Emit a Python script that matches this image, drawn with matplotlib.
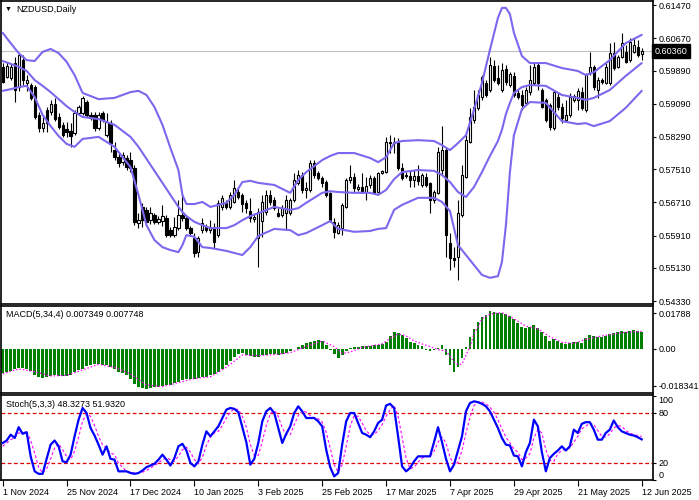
import numpy as np
import matplotlib
matplotlib.use('Agg')
import matplotlib.pyplot as plt

plt.rcParams['font.family'] = ['Liberation Sans', 'DejaVu Sans']

# ---- price candles (daily NZDUSD), one entry per bar ----
opens = [0.5998, 0.5973, 0.5971, 0.6007, 0.5949, 0.6014, 0.5959, 0.5954, 0.5949, 0.5882,
         0.5850, 0.5894, 0.5889, 0.5908, 0.5877, 0.5858, 0.5848, 0.5843, 0.5838, 0.5887,
         0.5887, 0.5913, 0.5882, 0.5882, 0.5850, 0.5887, 0.5833, 0.5862, 0.5797, 0.5780,
         0.5768, 0.5778, 0.5773, 0.5754, 0.5621, 0.5660, 0.5653, 0.5628, 0.5640, 0.5624,
         0.5626, 0.5633, 0.5604, 0.5592, 0.5609, 0.5640, 0.5633, 0.5609, 0.5585, 0.5551,
         0.5604, 0.5612, 0.5604, 0.5612, 0.5592, 0.5660, 0.5670, 0.5660, 0.5672, 0.5696,
         0.5689, 0.5670, 0.5650, 0.5631, 0.5585, 0.5626, 0.5648, 0.5689, 0.5677, 0.5645,
         0.5640, 0.5645, 0.5645, 0.5677, 0.5718, 0.5737, 0.5701, 0.5701, 0.5766, 0.5742,
         0.5730, 0.5720, 0.5694, 0.5624, 0.5597, 0.5609, 0.5660, 0.5725, 0.5732, 0.5703,
         0.5708, 0.5696, 0.5713, 0.5730, 0.5696, 0.5742, 0.5744, 0.5814, 0.5817, 0.5817,
         0.5754, 0.5737, 0.5735, 0.5725, 0.5735, 0.5713, 0.5732, 0.5718, 0.5677, 0.5694,
         0.5749, 0.5797, 0.5573, 0.5537, 0.5539, 0.5640, 0.5732, 0.5817, 0.5870, 0.5899,
         0.5925, 0.5959, 0.5942, 0.6000, 0.5971, 0.5942, 0.5993, 0.5954, 0.5976, 0.5935,
         0.5930, 0.5911, 0.5937, 0.5959, 0.6002, 0.5942, 0.5918, 0.5906, 0.5850, 0.5925,
         0.5901, 0.5870, 0.5882, 0.5918, 0.5918, 0.5937, 0.5894, 0.5983, 0.5998, 0.5942,
         0.5966, 0.5959, 0.5959, 0.6031, 0.5998, 0.6022, 0.6034, 0.6014, 0.6034, 0.6046,
         0.6029]
highs = [0.6007, 0.6010, 0.6005, 0.6022, 0.6031, 0.6026, 0.5978, 0.5959, 0.5954, 0.5889,
         0.5877, 0.5901, 0.5918, 0.5923, 0.5887, 0.5865, 0.5865, 0.5862, 0.5894, 0.5906,
         0.5928, 0.5918, 0.5889, 0.5889, 0.5889, 0.5891, 0.5887, 0.5870, 0.5817, 0.5790,
         0.5793, 0.5785, 0.5793, 0.5761, 0.5645, 0.5670, 0.5660, 0.5660, 0.5645, 0.5638,
         0.5665, 0.5640, 0.5612, 0.5636, 0.5677, 0.5694, 0.5638, 0.5614, 0.5597, 0.5590,
         0.5633, 0.5619, 0.5628, 0.5621, 0.5677, 0.5689, 0.5677, 0.5696, 0.5725, 0.5706,
         0.5694, 0.5677, 0.5682, 0.5643, 0.5657, 0.5689, 0.5701, 0.5701, 0.5684, 0.5657,
         0.5665, 0.5689, 0.5682, 0.5742, 0.5749, 0.5744, 0.5720, 0.5773, 0.5773, 0.5747,
         0.5735, 0.5725, 0.5696, 0.5633, 0.5624, 0.5670, 0.5730, 0.5761, 0.5742, 0.5715,
         0.5742, 0.5732, 0.5737, 0.5735, 0.5744, 0.5749, 0.5829, 0.5833, 0.5829, 0.5826,
         0.5766, 0.5744, 0.5749, 0.5749, 0.5761, 0.5742, 0.5742, 0.5720, 0.5701, 0.5805,
         0.5855, 0.5802, 0.5597, 0.5563, 0.5677, 0.5761, 0.5841, 0.5899, 0.5942, 0.5942,
         0.5978, 0.5966, 0.6022, 0.6014, 0.6002, 0.6007, 0.6002, 0.5985, 0.5985, 0.5942,
         0.5942, 0.5949, 0.6002, 0.6007, 0.6007, 0.5947, 0.5923, 0.5911, 0.5942, 0.5937,
         0.5911, 0.5918, 0.5935, 0.5932, 0.5947, 0.5949, 0.5983, 0.6034, 0.6002, 0.5973,
         0.5971, 0.6007, 0.6055, 0.6058, 0.6026, 0.6080, 0.6051, 0.6067, 0.6067, 0.6063,
         0.6043]
lows = [0.5959, 0.5971, 0.5966, 0.5913, 0.5940, 0.5954, 0.5940, 0.5918, 0.5872, 0.5841,
        0.5841, 0.5841, 0.5882, 0.5867, 0.5848, 0.5829, 0.5829, 0.5805, 0.5833, 0.5882,
        0.5882, 0.5877, 0.5870, 0.5843, 0.5846, 0.5865, 0.5829, 0.5793, 0.5773, 0.5756,
        0.5761, 0.5749, 0.5744, 0.5616, 0.5609, 0.5612, 0.5616, 0.5619, 0.5619, 0.5619,
        0.5614, 0.5588, 0.5588, 0.5588, 0.5604, 0.5626, 0.5604, 0.5590, 0.5539, 0.5539,
        0.5597, 0.5600, 0.5597, 0.5561, 0.5588, 0.5653, 0.5655, 0.5655, 0.5670, 0.5679,
        0.5648, 0.5645, 0.5624, 0.5624, 0.5515, 0.5588, 0.5640, 0.5665, 0.5653, 0.5636,
        0.5636, 0.5604, 0.5640, 0.5672, 0.5713, 0.5694, 0.5682, 0.5696, 0.5730, 0.5725,
        0.5708, 0.5684, 0.5624, 0.5585, 0.5595, 0.5592, 0.5657, 0.5718, 0.5696, 0.5698,
        0.5694, 0.5677, 0.5706, 0.5691, 0.5694, 0.5739, 0.5742, 0.5790, 0.5790, 0.5749,
        0.5725, 0.5730, 0.5708, 0.5708, 0.5713, 0.5708, 0.5708, 0.5645, 0.5670, 0.5691,
        0.5737, 0.5539, 0.5508, 0.5515, 0.5484, 0.5636, 0.5730, 0.5814, 0.5862, 0.5894,
        0.5918, 0.5925, 0.5937, 0.5961, 0.5954, 0.5937, 0.5954, 0.5949, 0.5925, 0.5920,
        0.5894, 0.5906, 0.5930, 0.5954, 0.5942, 0.5899, 0.5865, 0.5846, 0.5846, 0.5894,
        0.5862, 0.5865, 0.5877, 0.5913, 0.5894, 0.5894, 0.5889, 0.5978, 0.5942, 0.5923,
        0.5957, 0.5957, 0.5954, 0.5990, 0.5995, 0.6019, 0.6007, 0.6010, 0.6031, 0.6022,
        0.6014]
closes = [0.5961, 0.6000, 0.5998, 0.5942, 0.6026, 0.5966, 0.5966, 0.5923, 0.5877, 0.5850,
          0.5862, 0.5862, 0.5908, 0.5872, 0.5853, 0.5833, 0.5841, 0.5831, 0.5887, 0.5901,
          0.5923, 0.5882, 0.5875, 0.5850, 0.5882, 0.5870, 0.5865, 0.5814, 0.5780, 0.5766,
          0.5785, 0.5756, 0.5754, 0.5624, 0.5628, 0.5628, 0.5624, 0.5645, 0.5624, 0.5631,
          0.5638, 0.5592, 0.5592, 0.5612, 0.5640, 0.5633, 0.5609, 0.5597, 0.5549, 0.5585,
          0.5621, 0.5604, 0.5612, 0.5575, 0.5670, 0.5682, 0.5660, 0.5689, 0.5706, 0.5684,
          0.5667, 0.5657, 0.5633, 0.5636, 0.5648, 0.5672, 0.5689, 0.5672, 0.5657, 0.5638,
          0.5657, 0.5677, 0.5677, 0.5725, 0.5737, 0.5701, 0.5706, 0.5766, 0.5737, 0.5730,
          0.5718, 0.5689, 0.5628, 0.5600, 0.5616, 0.5665, 0.5725, 0.5732, 0.5706, 0.5708,
          0.5696, 0.5710, 0.5730, 0.5694, 0.5742, 0.5747, 0.5817, 0.5817, 0.5814, 0.5754,
          0.5730, 0.5735, 0.5725, 0.5735, 0.5723, 0.5737, 0.5713, 0.5677, 0.5696, 0.5793,
          0.5797, 0.5592, 0.5537, 0.5532, 0.5645, 0.5737, 0.5821, 0.5877, 0.5901, 0.5930,
          0.5973, 0.5930, 0.6002, 0.5966, 0.5959, 0.5990, 0.5961, 0.5981, 0.5930, 0.5925,
          0.5906, 0.5942, 0.5966, 0.5998, 0.5959, 0.5901, 0.5870, 0.5853, 0.5937, 0.5901,
          0.5875, 0.5882, 0.5925, 0.5928, 0.5940, 0.5899, 0.5978, 0.5998, 0.5949, 0.5966,
          0.5961, 0.5998, 0.6031, 0.5995, 0.6022, 0.6055, 0.6010, 0.6058, 0.6051, 0.6026,
          0.6036]

# ---- Bollinger bands at these bars ----
band_idx = [0, 2, 4, 6, 8, 10, 12, 14, 16, 18, 20, 24, 28, 32, 34, 36, 38, 40, 42, 44,
            45, 46, 48, 50, 52, 56, 58, 60, 62, 64, 68, 72, 74, 76, 80, 82, 84, 88, 92, 94,
            96, 98, 100, 104, 108, 110, 112, 114, 116, 118, 120, 122, 124, 125, 126, 127, 128, 130, 132, 136,
            140, 144, 146, 148, 152, 156, 160]
band_upper = [0.6080, 0.6055, 0.6031, 0.6014, 0.6012, 0.6034, 0.6041, 0.6031, 0.6010, 0.5978,
              0.5935, 0.5920, 0.5923, 0.5937, 0.5940, 0.5930, 0.5901, 0.5858, 0.5802, 0.5749,
              0.5689, 0.5667, 0.5667, 0.5672, 0.5660, 0.5670, 0.5689, 0.5720, 0.5723, 0.5718,
              0.5713, 0.5694, 0.5725, 0.5744, 0.5773, 0.5783, 0.5790, 0.5790, 0.5778, 0.5768,
              0.5780, 0.5814, 0.5819, 0.5821, 0.5819, 0.5809, 0.5797, 0.5814, 0.5833, 0.5894,
              0.5959, 0.6039, 0.6116, 0.6140, 0.6140, 0.6125, 0.6080, 0.6024, 0.6007, 0.6007,
              0.5995, 0.5988, 0.5978, 0.5985, 0.6014, 0.6055, 0.6075]
band_mid = [0.6012, 0.6005, 0.5998, 0.5988, 0.5966, 0.5952, 0.5937, 0.5920, 0.5903, 0.5889,
            0.5877, 0.5872, 0.5858, 0.5829, 0.5805, 0.5776, 0.5747, 0.5718, 0.5689, 0.5660,
            0.5648, 0.5638, 0.5624, 0.5616, 0.5609, 0.5609, 0.5616, 0.5628, 0.5638, 0.5645,
            0.5660, 0.5653, 0.5657, 0.5670, 0.5694, 0.5698, 0.5696, 0.5694, 0.5694, 0.5689,
            0.5701, 0.5727, 0.5744, 0.5749, 0.5747, 0.5737, 0.5720, 0.5696, 0.5684, 0.5708,
            0.5744, 0.5783, 0.5819, 0.5846, 0.5884, 0.5911, 0.5935, 0.5949, 0.5954, 0.5952,
            0.5930, 0.5923, 0.5918, 0.5923, 0.5942, 0.5976, 0.6007]
band_lower = [0.5940, 0.5944, 0.5949, 0.5952, 0.5925, 0.5882, 0.5855, 0.5831, 0.5812, 0.5805,
              0.5824, 0.5829, 0.5805, 0.5756, 0.5689, 0.5616, 0.5580, 0.5563, 0.5556, 0.5551,
              0.5568, 0.5592, 0.5588, 0.5563, 0.5561, 0.5554, 0.5549, 0.5544, 0.5563, 0.5590,
              0.5607, 0.5604, 0.5592, 0.5597, 0.5616, 0.5626, 0.5607, 0.5600, 0.5602, 0.5607,
              0.5609, 0.5653, 0.5665, 0.5682, 0.5682, 0.5672, 0.5650, 0.5568, 0.5544, 0.5520,
              0.5496, 0.5489, 0.5493, 0.5527, 0.5616, 0.5744, 0.5833, 0.5896, 0.5913, 0.5911,
              0.5867, 0.5860, 0.5862, 0.5855, 0.5867, 0.5899, 0.5940]

# ---- MACD(5,34,4) histogram, one per bar ----
macd = [-0.0118, -0.0114, -0.0108, -0.0101, -0.0096, -0.0093, -0.0098, -0.0108, -0.0129, -0.0141,
        -0.0146, -0.0141, -0.0134, -0.0131, -0.0134, -0.0136, -0.0133, -0.0128, -0.0114, -0.0104,
        -0.0098, -0.0085, -0.0078, -0.0075, -0.0075, -0.0078, -0.0081, -0.0088, -0.0101, -0.0113,
        -0.0121, -0.0128, -0.0147, -0.0174, -0.0191, -0.0196, -0.0197, -0.0194, -0.0191, -0.0187,
        -0.0184, -0.0181, -0.0177, -0.0171, -0.0162, -0.0154, -0.0151, -0.0147, -0.0147, -0.0144,
        -0.0141, -0.0138, -0.0131, -0.0124, -0.0114, -0.0100, -0.0080, -0.0060, -0.0040, -0.0025,
        -0.0022, -0.0028, -0.0035, -0.0041, -0.0038, -0.0031, -0.0028, -0.0025, -0.0025, -0.0028,
        -0.0025, -0.0018, -0.0008, 0.0002, 0.0012, 0.0020, 0.0028, 0.0035, 0.0040, 0.0043,
        0.0041, 0.0020, -0.0005, -0.0025, -0.0043, -0.0031, -0.0012, 0.0007, 0.0012, 0.0012,
        0.0013, 0.0013, 0.0015, 0.0018, 0.0020, 0.0025, 0.0036, 0.0065, 0.0083, 0.0078,
        0.0070, 0.0053, 0.0036, 0.0028, 0.0020, 0.0015, -0.0005, -0.0012, -0.0005, 0.0007,
        0.0020, -0.0030, -0.0080, -0.0113, -0.0088, -0.0046, 0.0012, 0.0061, 0.0099, 0.0136,
        0.0161, 0.0169, 0.0189, 0.0182, 0.0177, 0.0180, 0.0172, 0.0166, 0.0149, 0.0131,
        0.0111, 0.0106, 0.0111, 0.0119, 0.0103, 0.0086, 0.0065, 0.0041, 0.0050, 0.0040,
        0.0031, 0.0023, 0.0028, 0.0033, 0.0036, 0.0031, 0.0053, 0.0070, 0.0065, 0.0061,
        0.0061, 0.0065, 0.0075, 0.0078, 0.0083, 0.0088, 0.0085, 0.0090, 0.0094, 0.0091,
        0.0084]
signal_idx = [0, 4, 8, 12, 16, 20, 24, 28, 32, 36, 40, 44, 48, 52, 56, 60, 64, 68, 72, 76,
              80, 83, 85, 87, 90, 92, 95, 97, 99, 101, 103, 105, 107, 109, 111, 113, 114, 115, 116, 117,
              118, 119, 120, 122, 125, 128, 131, 134, 137, 140, 143, 146, 150, 155, 160]
signal = [-0.0124, -0.0099, -0.0113, -0.0134, -0.0131, -0.0104, -0.0076, -0.0091, -0.0124, -0.0179,
          -0.0187, -0.0167, -0.0147, -0.0138, -0.0091, -0.0030, -0.0033, -0.0028, -0.0018, 0.0012,
          0.0040, 0.0012, -0.0022, -0.0015, 0.0008, 0.0015, 0.0025, 0.0053, 0.0075, 0.0065,
          0.0040, 0.0025, 0.0012, -0.0003, -0.0010, -0.0063, -0.0078, -0.0075, -0.0030, 0.0010,
          0.0075, 0.0110, 0.0150, 0.0174, 0.0181, 0.0150, 0.0114, 0.0100, 0.0061, 0.0033,
          0.0028, 0.0048, 0.0065, 0.0081, 0.0088]

# ---- Stochastic(5,3,3), one per bar ----
stoch_k = [44, 47, 54, 50, 63, 55, 57, 28, 10, 7, 7, 25, 42, 47, 40, 22, 21, 30, 52, 72,
           86, 80, 62, 53, 42, 30, 40, 25, 24, 10, 10, 10, 8, 7, 8, 11, 15, 17, 19, 24,
           30, 24, 17, 26, 40, 43, 35, 20, 16, 22, 42, 58, 52, 58, 64, 74, 84, 86, 85, 81,
           63, 45, 18, 25, 44, 70, 82, 86, 80, 62, 44, 55, 64, 80, 88, 82, 74, 74, 74, 70,
           64, 36, 15, 4, 8, 42, 70, 80, 80, 68, 56, 54, 51, 58, 68, 72, 89, 91, 86, 52,
           16, 10, 14, 22, 28, 28, 28, 28, 45, 63, 45, 25, 10, 18, 35, 52, 82, 92, 94, 93,
           91, 88, 82, 72, 62, 50, 42, 41, 29, 28, 16, 33, 44, 72, 64, 33, 10, 26, 31, 35,
           40, 35, 40, 60, 56, 67, 69, 69, 60, 48, 48, 56, 60, 71, 63, 58, 56, 54, 53, 51,
           48.33]
stoch_d = [40, 44, 48, 50, 56, 56, 58, 47, 32, 15, 8, 13, 25, 38, 43, 36, 28, 24, 34, 51,
           70, 79, 76, 65, 52, 42, 37, 32, 30, 20, 15, 10, 9, 8, 8, 9, 11, 14, 17, 20,
           24, 26, 24, 22, 28, 36, 39, 33, 24, 19, 27, 41, 51, 56, 58, 65, 74, 81, 85, 84,
           76, 63, 42, 29, 29, 46, 65, 79, 83, 76, 62, 54, 54, 66, 77, 83, 81, 77, 74, 73,
           69, 57, 38, 18, 9, 18, 40, 64, 77, 76, 68, 59, 54, 54, 59, 66, 76, 84, 89, 76,
           51, 26, 13, 15, 21, 26, 28, 28, 34, 45, 51, 44, 27, 18, 21, 35, 56, 75, 89, 93,
           93, 91, 87, 81, 72, 61, 51, 44, 37, 33, 24, 26, 31, 50, 60, 56, 36, 23, 22, 31,
           35, 37, 38, 45, 52, 61, 64, 68, 66, 59, 52, 51, 55, 62, 65, 64, 59, 56, 54, 53,
           51.93]

last_price = 0.6036
price_ticks = [0.6147, 0.6067, 0.5989, 0.5909, 0.5829, 0.5751, 0.5671, 0.5591, 0.5513, 0.5433]
date_labels = ['1 Nov 2024', '25 Nov 2024', '17 Dec 2024', '10 Jan 2025', '3 Feb 2025',
               '25 Feb 2025', '17 Mar 2025', '7 Apr 2025', '29 Apr 2025', '21 May 2025',
               '12 Jun 2025']

FS = 6.5
BAND = '#7b68ee'


def style_axis(ax):
    for s in ax.spines.values():
        s.set_color('black')
        s.set_linewidth(1.2)
    ax.yaxis.tick_right()
    ax.tick_params(axis='y', which='both', direction='out', length=2.5, width=0.8,
                   labelsize=FS, pad=1.5, colors='black')
    ax.tick_params(axis='x', which='both', bottom=False, labelbottom=False)
    ax.set_xlim(-0.5, 162.75)


def main():
    fig = plt.figure(figsize=(6.99, 5.0), dpi=100)
    w = 652 / 699
    ax = fig.add_axes([0.001, 0.392, w, 0.606])
    ax_m = fig.add_axes([0.001, 0.214, w, 0.174])
    ax_s = fig.add_axes([0.001, 0.040, w, 0.170])

    n = len(closes)
    x = np.arange(n)
    o = np.array(opens)
    c = np.array(closes)

    # candles
    ax.vlines(x, lows, highs, color='black', lw=0.8, zorder=2)
    up = c >= o
    body_lo = np.minimum(o, c)
    body_h = np.abs(c - o)
    ax.bar(x[up], body_h[up], bottom=body_lo[up], width=0.55, facecolor='white',
           edgecolor='black', lw=0.8, zorder=3)
    ax.bar(x[~up], body_h[~up], bottom=body_lo[~up], width=0.55, facecolor='black',
           edgecolor='black', lw=0.8, zorder=3)

    # bollinger bands
    for band in (band_upper, band_mid, band_lower):
        ax.plot(band_idx, band, color=BAND, lw=1.5, zorder=4, solid_capstyle='round')

    ax.axhline(last_price, color='#c0c0c0', lw=0.8, zorder=1)
    style_axis(ax)
    ax.set_ylim(0.54259, 0.61567)
    ax.set_yticks(price_ticks)
    ax.set_yticklabels(['%.5f' % v for v in price_ticks])
    ax.text(1.003, last_price, '%.5f' % last_price, transform=ax.get_yaxis_transform(),
            color='white', fontsize=FS, va='center', ha='left', zorder=10,
            bbox=dict(facecolor='black', edgecolor='black', pad=1.8), clip_on=False)

    fig.text(5 / 699, 1 - 9 / 500, '\u25bc', fontsize=5, va='center', ha='left')
    fig.text(16 / 699, 1 - 9 / 500, 'NZDUSD,Daily', fontsize=FS, va='center', ha='left')

    # MACD
    ax_m.bar(x, macd, width=0.72, color='#008000', zorder=2)
    ax_m.plot(signal_idx, signal, color='#ff00ff', lw=0.9, ls=(0, (1.2, 1.6)), zorder=3)
    style_axis(ax_m)
    ax_m.set_ylim(-0.02187, 0.02137)
    ax_m.set_yticks([0.01788, 0.0, -0.018341])
    ax_m.set_yticklabels(['0.01788', '0.00', '-0.018341'])
    ax_m.text(0.008, 0.897, 'MACD(5,34,4) 0.007349 0.007748', transform=ax_m.transAxes,
              fontsize=FS, va='center', ha='left')

    # Stochastic
    ax_s.axhline(80, color='#e00000', lw=0.9, ls=(0, (3, 2)), zorder=1)
    ax_s.axhline(20, color='#e00000', lw=0.9, ls=(0, (3, 2)), zorder=1)
    ax_s.plot(x, stoch_d, color='#ff00ff', lw=0.8, ls=(0, (2.5, 2)), zorder=2)
    ax_s.plot(x, stoch_k, color='#0000ff', lw=1.6, zorder=3)
    style_axis(ax_s)
    ax_s.set_ylim(-0.4, 101.6)
    ax_s.set_yticks([100, 80, 20, 0])
    ax_s.set_yticklabels(['100', '80', '20', '0'])
    labs = ax_s.get_yticklabels()
    labs[0].set_va('top')
    labs[3].set_va('bottom')
    ax_s.text(0.008, 0.894, 'Stoch(5,3,3) 48.3273 51.9320', transform=ax_s.transAxes,
              fontsize=FS, va='center', ha='left')

    ax_s.tick_params(axis='x', bottom=True, labelbottom=True, direction='out', length=4,
                     width=0.8, labelsize=FS, pad=1.5)
    ax_s.set_xticks(np.arange(0, n, 16))
    ax_s.set_xticklabels(date_labels, ha='left')

    fig.savefig('out.png', dpi=100)


if __name__ == '__main__':
    main()
